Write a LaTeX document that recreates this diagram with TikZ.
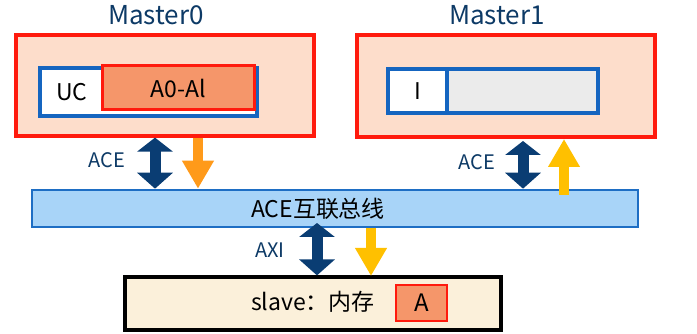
\documentclass[tikz,border=0pt]{standalone}
\usepackage{fontspec}
\setmainfont{Noto Sans CJK SC}
\usetikzlibrary{arrows.meta}
\definecolor{navy}{HTML}{0A3D73}
\definecolor{titleblue}{HTML}{0D3A66}
\definecolor{peach}{HTML}{FDDDCB}
\definecolor{boxred}{HTML}{FF1A0D}
\definecolor{busfill}{HTML}{A8D4F8}
\definecolor{busline}{HTML}{1E6EC4}
\definecolor{cellblue}{HTML}{1565C0}
\definecolor{lineorange}{HTML}{F5966A}
\definecolor{slavefill}{HTML}{FBF0DA}
\definecolor{arroworange}{HTML}{FF9A1A}
\definecolor{arrowyellow}{HTML}{FFC000}
\definecolor{cellgray}{HTML}{EBEBEB}
\newcommand{\fsz}[1]{\fontsize{#1}{#1}\selectfont}
\tikzset{
  master/.style={draw=boxred, fill=peach, line width=3.2pt, inner sep=0pt},
  title/.style={text=titleblue, font=\fsz{26}},
  label/.style={text=titleblue, font=\fsz{20}},
  cell/.style={draw=cellblue, line width=3.4pt, inner sep=0pt},
  twoway/.style={navy, line width=11pt, {Triangle[width=35pt,length=14pt]}-{Triangle[width=35pt,length=16pt]}},
  oneway/.style={#1, line width=10pt, -{Triangle[width=30pt,length=28pt]}},
}
\begin{document}
\begin{tikzpicture}[x=1pt, y=-1pt]
\useasboundingbox (0,0) rectangle (697,334);
\fill[white] (0,0) rectangle (697,334);

% Master0
\node[title] (t0) at (156,15) {Master0};
\node[master, minimum width=298pt, minimum height=101pt] (m0) at (165,85.5) {};
\node[cell, fill=white, minimum width=217pt, minimum height=48pt] (c0) at (148.5,92) {};
\node[font=\fsz{23}] (uc) at (72,92) {UC};
\node[draw=boxred, fill=lineorange, line width=3pt, inner sep=0pt,
      minimum width=152pt, minimum height=44pt, font=\fsz{23}] (a0) at (178,88) {A0-Al};

% Master1
\node[title] (t1) at (497,15) {Master1};
\node[master, minimum width=298pt, minimum height=102pt] (m1) at (506,86) {};
\node[cell, fill=cellgray, minimum width=151pt, minimum height=44pt] (c1b) at (522.5,91) {};
\node[cell, fill=white, minimum width=59pt, minimum height=44pt, font=\fsz{23}] (c1a) at (417.5,91) {I};

% interconnect bus
\node[draw=busline, fill=busfill, line width=2.6pt, inner sep=0pt,
      minimum width=606pt, minimum height=37pt] (bus) at (335,208.5) {};
\node[font=\fsz{23}] (bustext) at (318,209) {ACE互联总线};

% slave memory
\node[draw=black, fill=slavefill, line width=3.2pt, inner sep=0pt,
      minimum width=376pt, minimum height=53pt] (slave) at (313,303.5) {};
\node[font=\fsz{23}] (slavetext) at (313,302) {slave：内存};
\node[draw=boxred, fill=lineorange, line width=1.5pt, inner sep=0pt,
      minimum width=51pt, minimum height=36pt, font=\fsz{24}] (amem) at (421.5,303) {A};

% channel labels
\node[label] (l0) at (107,160) {ACE};
\node[label] (l1) at (477,162) {ACE};
\node[label] (l2) at (270,250) {AXI};

% connectors
\draw[twoway] (155,0 |- m0.south) -- (155,0 |- bus.north);
\draw[oneway=arroworange] (198,0 |- m0.south) -- (198,0 |- bus.north);
\draw[twoway] (523,141) -- (523,0 |- bus.north);
\draw[oneway=arrowyellow] (564,195) -- (564,139);
\draw[twoway] (317,223) -- (317,0 |- slave.north);
\draw[oneway=arrowyellow] (371,0 |- bus.south) -- (371,276);
\end{tikzpicture}
\end{document}
